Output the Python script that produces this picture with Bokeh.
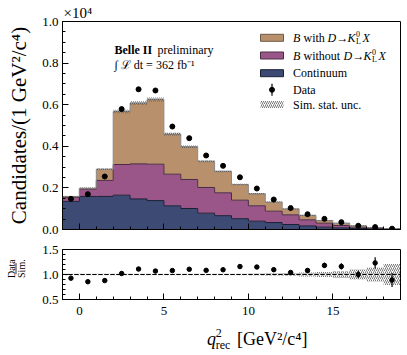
import numpy as np
from bokeh.plotting import figure
from bokeh.models import Range1d, FixedTicker, Label, Span
from bokeh.layouts import column, row
from bokeh.embed import file_html
from bokeh.resources import INLINE

# ---------------- data ----------------
bin_edges = [-1, 0, 1, 2, 3, 4, 5, 6, 7, 8, 9, 10, 11, 12, 13, 14, 15, 16, 17, 18, 19]
continuum = [1350, 1590, 1590, 1650, 1470, 1390, 1140, 1010, 785, 665, 520, 400, 335, 240, 175, 112, 80, 48, 30, 15]
b_without = [200, 350, 770, 1475, 1685, 1750, 1520, 1395, 1235, 1100, 890, 740, 545, 465, 290, 192, 112, 64, 30, 15]
b_with = [40, 45, 540, 2550, 2920, 3110, 1930, 1570, 1265, 1030, 755, 575, 435, 285, 215, 130, 112, 68, 35, 15]
data = [1474, 1699, 2548, 5790, 6740, 6683, 4950, 4391, 3558, 3061, 2510, 1971, 1442, 1030, 735, 513, 353, 180, 117, 40]
sim_rel_unc = [0.015, 0.015, 0.015, 0.015, 0.015, 0.015, 0.015, 0.015, 0.015, 0.015,
               0.017, 0.02, 0.025, 0.03, 0.04, 0.05, 0.07, 0.10, 0.14, 0.21]

y_ticks = [0, 2000, 4000, 6000, 8000, 10000]
y_tick_labels = ["0.0", "0.2", "0.4", "0.6", "0.8", "1.0"]
x_ticks = [0, 5, 10, 15]
x_tick_labels = ["0", "5", "10", "15"]
r_ticks = [0.5, 1.0, 1.5]
r_tick_labels = ["0.5", "1.0", "1.5"]

legend_labels = ["Continuum", "Data", "Sim. stat. unc."]

# ---------------- style ----------------
FONT = "Liberation Serif"
C_BROWN = "#b8906c"
C_PURPLE = "#9b5689"
C_NAVY = "#3c4a74"
L_BROWN = "#8a8a8a"
L_PURPLE = "#4a2c45"
L_NAVY = "#1a2036"
HATCH = "#555555"

W = 407
FL = 62      # frame left (page px)
FR = 400     # frame right (page px)
xr = Range1d(-1, 19)

edges = np.array(bin_edges, dtype=float)
left, right = edges[:-1], edges[1:]
centers = 0.5 * (left + right)
c = np.array(continuum, float)
w = np.array(b_without, float)
b = np.array(b_with, float)
d = np.array(data, float)
u = np.array(sim_rel_unc, float)
s1 = c
s2 = c + w
s3 = s2 + b


def ext(a):
    return np.append(a, a[-1])


def style_axis(ax, ticks, minor, labels, show=True):
    ax.ticker = FixedTicker(ticks=ticks, minor_ticks=minor)
    ax.major_tick_in = 6
    ax.major_tick_out = 0
    ax.minor_tick_in = 3
    ax.minor_tick_out = 0
    ax.major_tick_line_color = "black"
    ax.minor_tick_line_color = "black"
    ax.axis_line_color = "black"
    ax.major_label_text_font = FONT
    ax.major_label_text_font_size = "13px"
    ax.major_label_text_color = "black"
    if show:
        ax.major_label_overrides = {t: s for t, s in zip(ticks, labels)}
    else:
        ax.major_label_overrides = {t: "" for t in ticks}
        ax.major_label_text_font_size = "1px"
        ax.major_label_standoff = 0


def strip(wd, ht):
    f = figure(width=wd, height=ht, x_range=Range1d(0, wd), y_range=Range1d(0, ht),
               x_axis_type=None, y_axis_type=None, output_backend="svg",
               toolbar_location=None, min_border=0)
    f.outline_line_color = None
    f.grid.visible = False
    return f


def lab(fig, x, y, text, size, style="normal", align="left", baseline="middle", angle=0, xo=0, yo=0):
    fig.add_layout(Label(x=x, y=y, x_offset=xo, y_offset=yo, text=text,
                         text_font=FONT, text_font_size=f"{size}px", text_font_style=style,
                         text_align=align, text_baseline=baseline, angle=angle, text_color="black"))


# ---------------- top panel ----------------
TOP_H = 239
top = figure(width=W, height=TOP_H, x_range=xr, y_range=Range1d(0, 10000),
             output_backend="svg", toolbar_location=None, title="×10⁴",
             min_border_left=FL, min_border_right=W - FR, min_border_top=21, min_border_bottom=10)
top.title.align = "left"
top.title.offset = 1
top.title.standoff = 2
top.title.text_font = FONT
top.title.text_font_size = "15px"
top.title.text_font_style = "normal"
top.title.text_color = "black"
top.grid.visible = False
top.outline_line_color = "black"
top.outline_line_width = 1
style_axis(top.xaxis[0], x_ticks, list(range(-1, 20)), x_tick_labels, show=False)
style_axis(top.yaxis[0], y_ticks, list(range(0, 10001, 500)), y_tick_labels)
top.yaxis[0].major_label_standoff = 4
top.yaxis[0].axis_label = "Candidates/(1 GeV²/c⁴)"
top.yaxis[0].axis_label_text_font = FONT
top.yaxis[0].axis_label_text_font_style = "normal"
top.yaxis[0].axis_label_text_font_size = "21px"
top.yaxis[0].axis_label_text_color = "black"
top.yaxis[0].axis_label_standoff = 8

top.varea_step(x=edges, y1=np.zeros(len(edges)), y2=ext(s1), step_mode="after", fill_color=C_NAVY)
top.varea_step(x=edges, y1=ext(s1), y2=ext(s2), step_mode="after", fill_color=C_PURPLE)
top.varea_step(x=edges, y1=ext(s2), y2=ext(s3), step_mode="after", fill_color=C_BROWN)
top.step(x=edges, y=ext(s1), mode="after", line_color=L_NAVY, line_width=1)
top.step(x=edges, y=ext(s2), mode="after", line_color=L_PURPLE, line_width=1)
top.step(x=edges, y=ext(s3), mode="after", line_color=L_BROWN, line_width=1)
top.quad(left=left, right=right, bottom=s3 * (1 - u), top=s3 * (1 + u), fill_alpha=0,
         line_color=None, hatch_pattern="/", hatch_color=HATCH, hatch_scale=4, hatch_weight=0.8)
top.segment(x0=centers, y0=d - np.sqrt(d), x1=centers, y1=d + np.sqrt(d), line_color="black", line_width=1.2)
top.scatter(centers, d, size=5, marker="circle", color="black")


def ttop(px, py, text, size, style="normal", align="left"):
    # anchored at the frame's top-left corner, offset in pixels
    lab(top, -1, 10000, text, size, style, align, xo=px - FL, yo=-(py - 21))


ttop(114, 49, "Belle II", 12, "bold")
ttop(157, 49, "preliminary", 12)
ttop(114, 64, "∫ ℒ dt = 362 fb⁻¹", 12)


def X(px):
    return -1 + (px - FL) * 20.0 / (FR - FL)


def Yt(py):
    return (229 - py) * 10000.0 / 208.0


rows = [37.3, 55.0, 72.7, 89.3, 104.0]
fills = [C_BROWN, C_PURPLE, C_NAVY]
lines = ["#6f5a47", "#4a2c45", "#1a2036"]
for i in range(3):
    top.quad(left=[X(260)], right=[X(283)], bottom=[Yt(rows[i] + 3.5)], top=[Yt(rows[i] - 3.5)],
             fill_color=fills[i], line_color=lines[i], line_width=1)
top.segment(x0=[X(271.5)], y0=[Yt(rows[3] + 6)], x1=[X(271.5)], y1=[Yt(rows[3] - 6)], line_color="black", line_width=1.2)
top.scatter([X(271.5)], [Yt(rows[3])], size=5, marker="circle", color="black")
top.quad(left=[X(260)], right=[X(283)], bottom=[Yt(rows[4] + 3.5)], top=[Yt(rows[4] - 3.5)],
         fill_alpha=0, line_color=None, hatch_pattern="/", hatch_color=HATCH, hatch_scale=4, hatch_weight=0.8)

for ri, pieces in [(0, [(292.5, "B", "italic"), (303, "with", "normal"), (327, "D", "italic"), (336, "→", "normal"),
                        (347, "K", "italic"), (362, "X", "italic")]),
                   (1, [(292.5, "B", "italic"), (303, "without", "normal"), (343, "D", "italic"), (352, "→", "normal"),
                        (363, "K", "italic"), (378, "X", "italic")])]:
    for px, t, st in pieces:
        ttop(px, rows[ri], t, 12, st)
    kx = pieces[4][0]
    ttop(kx + 8.5, rows[ri] - 4, "0", 8)
    ttop(kx + 8.5, rows[ri] + 3.5, "L", 8)
ttop(292.5, rows[2], legend_labels[0], 12)
ttop(292.5, rows[3], legend_labels[1], 12)
ttop(292.5, rows[4], legend_labels[2], 12)

# ---------------- ratio panel ----------------
BOT_H = 81
YS_W = 28
bot = figure(width=W - YS_W, height=BOT_H, x_range=xr, y_range=Range1d(0.5, 1.5),
             output_backend="svg", toolbar_location=None,
             min_border_left=FL - YS_W, min_border_right=W - FR, min_border_top=10, min_border_bottom=21)
bot.grid.visible = False
bot.outline_line_color = "black"
bot.outline_line_width = 1
style_axis(bot.xaxis[0], x_ticks, list(range(-1, 20)), x_tick_labels)
bot.xaxis[0].major_label_standoff = 7
style_axis(bot.yaxis[0], r_ticks, [0.6, 0.7, 0.8, 0.9, 1.1, 1.2, 1.3, 1.4], r_tick_labels)
bot.yaxis[0].major_label_standoff = 4

ratio = d / s3
rerr = np.sqrt(d) / s3
bot.quad(left=left, right=right, bottom=1 - u, top=1 + u, fill_alpha=0,
         line_color=None, hatch_pattern="/", hatch_color=HATCH, hatch_scale=4, hatch_weight=0.8)
bot.add_layout(Span(location=1.0, dimension="width", line_color="black", line_dash="4 2", line_width=1))
bot.segment(x0=centers, y0=ratio - rerr, x1=centers, y1=ratio + rerr, line_color="black", line_width=1.2)
bot.scatter(centers, ratio, size=4.5, marker="circle", color="black")

# y label of the ratio panel (Data / Sim.) in its own strip
ys = strip(YS_W, BOT_H)
ROW_TOP = TOP_H   # page y of the strip's top
lab(ys, 11, BOT_H - (270 - ROW_TOP), "Data", 10, align="center", angle=np.pi / 2)
lab(ys, 20.5, BOT_H - (270 - ROW_TOP), "Sim.", 10, align="center", angle=np.pi / 2)
ys.segment(x0=[15.5], y0=[BOT_H - (261 - ROW_TOP)], x1=[15.5], y1=[BOT_H - (279 - ROW_TOP)],
           line_color="black", line_width=0.8)

# x label strip
XS_H = 355 - TOP_H - BOT_H
xs = strip(W, XS_H)
XS_TOP = TOP_H + BOT_H


def xsl(px, py, text, size, style="normal"):
    lab(xs, px, XS_H - (py - XS_TOP), text, size, style, baseline="alphabetic")


xsl(174, 338, "q", 18, "italic")
xsl(184.5, 332, "2", 12)
xsl(184.5, 344, "rec", 12)
xsl(210, 338, "[GeV²/c⁴]", 18)

layout = column(top, row(ys, bot), xs)
open("out.html", "w").write(file_html(layout, INLINE))
